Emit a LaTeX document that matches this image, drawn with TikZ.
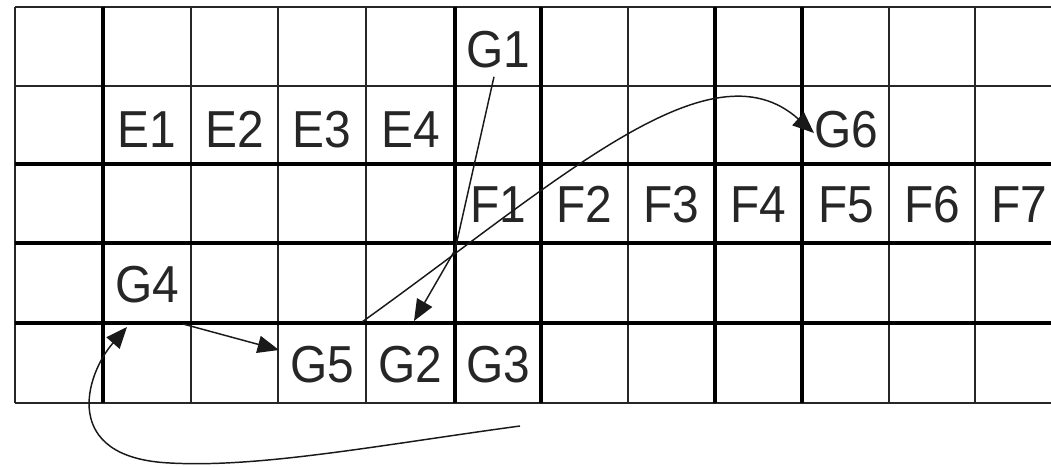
\documentclass[tikz,border=0pt]{standalone}
\usepackage{fontspec}
\setmainfont{Liberation Sans}
\newfontfamily\labfont[FakeStretch=0.92]{Liberation Sans}
\usetikzlibrary{arrows.meta}
\begin{document}
\begin{tikzpicture}[x=0.75pt,y=-0.75pt,
  thinline/.style={line width=2.2pt,draw=black!85,line cap=square},
  thickline/.style={line width=3.3pt,draw=black,line cap=square},
  lab/.style={font=\labfont\fontsize{39}{39}\selectfont,text=black!85,inner sep=0pt,anchor=base},
  conn/.style={line width=1.1pt,draw=black!90},
  tip/.style={-{Triangle[length=16pt,width=13pt]}}]
\useasboundingbox (0,0) rectangle (1051,467);
\fill[white] (0,0) rectangle (1051,467);
% grid
\foreach \x in {15,191,278,366,628,889,975} \draw[thinline] (\x,7) -- (\x,403);
\foreach \y in {7,86,403} \draw[thinline] (15,\y) -- (1051,\y);
\foreach \y in {164,243,323} \draw[thickline] (15,\y) -- (1051,\y);
\foreach \x in {103,455,541,715,802} \draw[thickline] (\x,7) -- (\x,403);
% labels
\node[lab] (G1) at (498,68) {G1};
\node[lab] (E1) at (147,147) {E1};
\node[lab] (E2) at (234.5,147) {E2};
\node[lab] (E3) at (322,147) {E3};
\node[lab] (E4) at (410.5,147) {E4};
\node[lab] (G6) at (846,147) {G6};
\node[lab] (F1) at (498,223) {F1};
\node[lab] (F2) at (584.5,223) {F2};
\node[lab] (F3) at (671.5,223) {F3};
\node[lab] (F4) at (758.5,223) {F4};
\node[lab] (F5) at (846,223) {F5};
\node[lab] (F6) at (932,223) {F6};
\node[lab] (F7) at (1019,223) {F7};
\node[lab] (G4) at (147,302) {G4};
\node[lab] (G5) at (322,382) {G5};
\node[lab] (G2) at (410.5,382) {G2};
\node[lab] (G3) at (498,382) {G3};
% connector ends
\coordinate (g1out) at ([shift={(-4,8)}]G1.south);
\coordinate (bend) at (455,250);
\coordinate (g2in) at (414,321);
\coordinate (g5out) at (362,322);
\coordinate (g6in) at (814,133);
\coordinate (g4out) at (183,324);
\coordinate (g5in) at (279,350);
\coordinate (g3tail) at (520,426);
\coordinate (loop) at (170,463);
\coordinate (g4in) at (127,327);
% connectors
\draw[conn,tip] (g1out) -- (bend) -- (g2in);
\draw[conn,tip] (g5out) .. controls (560,180) and (710,40) .. (g6in);
\draw[conn,tip] (g4out) -- (g5in);
\draw[conn] (g3tail) .. controls (380,445) and (260,468) .. (loop);
\draw[conn,tip] (loop) .. controls (60,458) and (85,375) .. (g4in);
\end{tikzpicture}
\end{document}
